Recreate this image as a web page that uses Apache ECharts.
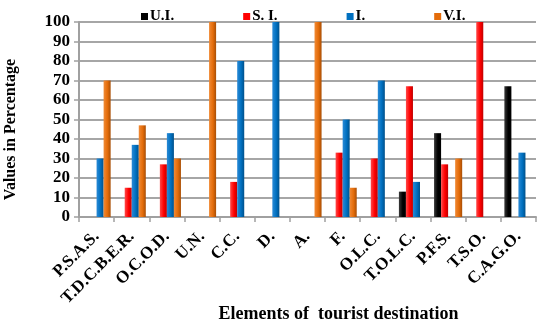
<!DOCTYPE html>
<html>
<head>
<meta charset="utf-8">
<script src="https://cdn.jsdelivr.net/npm/echarts@6/dist/echarts.min.js"></script>
<style>
  html, body { margin: 0; padding: 0; background: #fff; }
  #chart { width: 542px; height: 324px; }
</style>
</head>
<body>
<div id="chart"></div>
<script>
// Tourist destination elements and the share (%) of each rating
const categories = ['P.S.A.S.', 'T.D.C.B.E.R.', 'O.C.O.D.', 'U.N.', 'C.C.', 'D.', 'A.', 'F.', 'O.L.C.', 'T.O.L.C.', 'P.F.S.', 'T.S.O.', 'C.A.G.O.'];
const seriesNames = ['U.I.', 'S. I.', 'I.', 'V.I.'];
const valuesUI = [0, 0, 0, 0, 0, 0, 0, 0, 0, 13, 43, 0, 67];
const valuesSI = [0, 15, 27, 0, 18, 0, 0, 33, 30, 67, 27, 100, 0];
const valuesI  = [30, 37, 43, 0, 80, 100, 0, 50, 70, 18, 0, 0, 33];
const valuesVI = [70, 47, 30, 100, 0, 0, 100, 15, 0, 0, 30, 0, 0];
const yTicks = [0, 10, 20, 30, 40, 50, 60, 70, 80, 90, 100];

const colors = ['#000000', '#ff0000', '#0070c0', '#e46c0a'];
const shades = [
  ['#3a3a3a', '#000000'],
  ['#ff4a4a', '#c00000'],
  ['#2a8ad6', '#00508a'],
  ['#f08a35', '#a84e05']
];

function shaded(i) {
  return new echarts.graphic.LinearGradient(0, 0, 1, 0, [
    { offset: 0, color: shades[i][0] },
    { offset: 0.55, color: colors[i] },
    { offset: 1, color: shades[i][1] }
  ]);
}

const allValues = [valuesUI, valuesSI, valuesI, valuesVI];
const serif = '"Liberation Serif", "Times New Roman", serif';

const chart = echarts.init(document.getElementById('chart'), null, { renderer: 'canvas' });
chart.setOption({
  animation: false,
  backgroundColor: '#ffffff',
  color: colors,
  legend: {
    top: 4,
    left: 136,
    itemWidth: 7,
    itemHeight: 7,
    itemGap: 69,
    icon: 'rect',
    textStyle: { fontFamily: serif, fontWeight: 'bold', fontSize: 15, color: '#000', padding: [0, 0, 0, -3] },
    data: seriesNames.map((n, i) => ({ name: n, itemStyle: { color: colors[i] } }))
  },
  grid: { left: 79, right: 6, top: 22, bottom: 107, containLabel: false, outerBoundsMode: 'none' },
  xAxis: {
    type: 'category',
    data: categories,
    name: 'Elements of  tourist destination',
    nameLocation: 'middle',
    nameGap: 88,
    nameMoveOverlap: false,
    nameTextStyle: { fontFamily: serif, fontWeight: 'bold', fontSize: 18, color: '#000', padding: [0, 0, 0, 62] },
    axisLine: { lineStyle: { color: '#a0a0a0', width: 2 } },
    axisTick: { show: true, length: 5, lineStyle: { color: '#a0a0a0', width: 1.5 } },
    axisLabel: {
      interval: 0,
      rotate: 45,
      margin: 17,
      fontFamily: serif,
      fontWeight: 'bold',
      fontSize: 17,
      color: '#000'
    }
  },
  yAxis: {
    type: 'value',
    min: yTicks[0],
    max: yTicks[yTicks.length - 1],
    interval: 10,
    name: 'Values in Percentage',
    nameLocation: 'middle',
    nameGap: 60,
    nameMoveOverlap: false,
    nameTextStyle: { fontFamily: serif, fontWeight: 'bold', fontSize: 16, color: '#000', padding: [0, 20, 0, 0] },
    axisLine: { show: true, lineStyle: { color: '#a0a0a0', width: 2 } },
    axisTick: { show: true, length: 5, lineStyle: { color: '#a0a0a0', width: 1.5 } },
    axisLabel: { fontFamily: serif, fontWeight: 'bold', fontSize: 17, color: '#000', margin: 9 },
    splitLine: { lineStyle: { color: '#a6a6a6', width: 2 } }
  },
  series: allValues.map((vals, i) => ({
    name: seriesNames[i],
    type: 'bar',
    data: vals,
    barGap: '0%',
    barCategoryGap: '20%',
    itemStyle: { color: shaded(i) }
  }))
});
</script>
</body>
</html>
